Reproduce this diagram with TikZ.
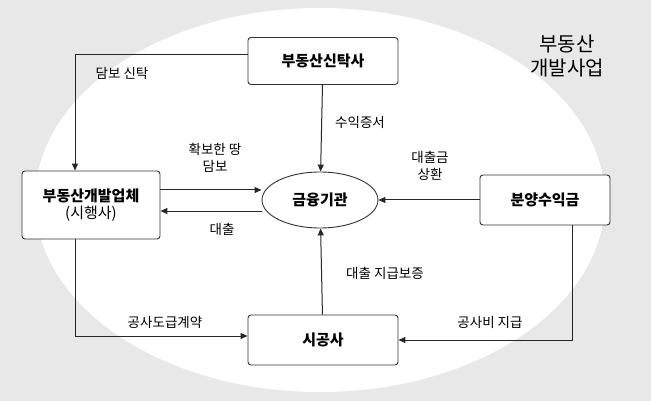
\documentclass[tikz,border=0pt]{standalone}
\usepackage{fontspec}
\setmainfont{Noto Sans CJK KR}
\usetikzlibrary{arrows.meta,shapes.geometric}
\begin{document}
\begin{tikzpicture}[x=1pt,y=-1pt,
 box/.style={draw=black!80,line width=0.9pt,rounded corners=3pt,fill=white,font=\fontsize{15}{18}\selectfont\bfseries},
 arr/.style={-{Triangle[length=7pt,width=6pt]},line width=1pt,black!85},
 lab/.style={font=\fontsize{13.5}{17}\selectfont,align=center}]
\useasboundingbox (0,0) rectangle (651,401);
\fill[black!9] (0,0) rectangle (651,401);
\fill[white] (320,200) ellipse (285 and 192);
\node[box,minimum width=150,minimum height=47] (trust) at (323,61) {부동산신탁사};
\node[box,minimum width=138,minimum height=68,align=center] (dev) at (91,205) {부동산개발업체\\[-1pt]{\mdseries (시행사)}};
\node[draw=black!80,line width=0.9pt,ellipse,minimum width=116,minimum height=56,font=\fontsize{15}{18}\selectfont\bfseries] (fin) at (320,200) {금융기관};
\node[box,minimum width=130,minimum height=50] (sale) at (545,200) {분양수익금};
\node[box,minimum width=150,minimum height=50] (con) at (323,340) {시공사};
\node[font=\fontsize{20}{24}\selectfont,align=center] (title) at (567,56) {부동산\\개발사업};
\draw[arr] (trust.west|-0,55) -| (dev.north-|75,0);
\node[lab] (l1) at (122,73) {담보 신탁};
\draw[arr] (trust) -- (fin);
\node[lab] (l2) at (360,122) {수익증서};
\draw[arr] (dev.east|-0,190) -- (fin.west|-0,190);
\draw[arr] (fin.west|-0,211) -- (dev.east|-0,211);
\node[lab] (l3) at (215,158) {확보한 땅\\담보};
\node[lab] (l4) at (222,229) {대출};
\draw[arr] (sale) -- (fin);
\node[lab] (l5) at (430,166) {대출금\\상환};
\draw[arr] (con) -- (fin);
\node[lab] (l6) at (385,273) {대출 지급보증};
\draw[arr] (dev.south-|75,0) |- (con.west|-0,336);
\node[lab] (l7) at (165,322) {공사도급계약};
\draw[arr] (sale.south-|572,0) |- (con.east|-0,340);
\node[lab] (l8) at (490,322) {공사비 지급};
\end{tikzpicture}
\end{document}
